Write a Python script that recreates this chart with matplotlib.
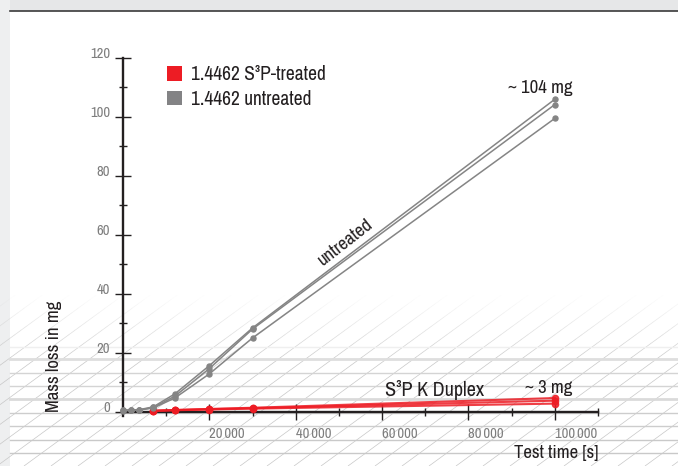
import numpy as np
import matplotlib
matplotlib.use("Agg")
import matplotlib.pyplot as plt
import matplotlib.patches as mpatches
from matplotlib.collections import LineCollection
from matplotlib.ticker import FixedLocator, FuncFormatter

plt.rcParams['font.family'] = ['Archivo Narrow', 'DejaVu Sans']

# data
time_s = [0, 1800, 3600, 7000, 12000, 20000, 30000, 100000]
untreated_a = [0.5, 0.5, 0.6, 1.6, 6.0, 15.6, 28.4, 106.0]
untreated_b = [0.4, 0.5, 0.5, 1.4, 5.2, 14.6, 28.0, 104.2]
untreated_c = [0.3, 0.4, 0.5, 1.2, 4.6, 12.8, 25.0, 99.5]

treated_time_s = [7000, 12000, 20000, 30000, 100000]
treated_a = [0.3, 0.55, 0.9, 1.3, 4.6]
treated_b = [0.25, 0.5, 0.8, 1.15, 3.7]
treated_c = [0.2, 0.45, 0.7, 1.0, 2.7]

x_major = [20000, 40000, 60000, 80000, 100000]
x_minor = [10000, 30000, 50000, 70000, 90000, 110000]
y_major = [0, 20, 40, 60, 80, 100, 120]
y_minor = [10, 30, 50, 70, 90, 110]

legend_labels = ["1.4462 S\u00b3P-treated", "1.4462 untreated"]

RED = '#ed1c24'
GRAY = '#858585'
INK = '#231f20'
TICKGRAY = '#7d7d7d'

W, H = 678, 466
fig = plt.figure(figsize=(W / 100, H / 100), dpi=100)

# background decoration in pixel coordinates
bg = fig.add_axes([0, 0, 1, 1], zorder=-1)
bg.set_autoscale_on(False)
bg.set_xlim(0, W)
bg.set_ylim(H, 0)
bg.axis('off')
bg.add_patch(mpatches.Rectangle((0, 0), W, 10.5, color='#e6e7e8', lw=0))
bg.add_patch(mpatches.Rectangle((0, 0), 9.5, H, color='#eeeff0', lw=0))
bg.plot([9.5, W], [11, 11], color='#3a3a3a', lw=1.2)

# diagonal hatching at the bottom, fading out towards the top
slope = 0.73
y_edges = np.linspace(295, H, 40)
segs, cols = [], []
for x0 in np.arange(-300, W + 50, 27):
    for ya, yb in zip(y_edges[1:], y_edges[:-1]):
        xa = x0 + (H - ya) / slope
        xb = x0 + (H - yb) / slope
        fade = min(1.0, max(0.0, ((ya + yb) / 2 - 295) / 65))
        segs.append([(xa, ya), (xb, yb)])
        cols.append((0.78, 0.78, 0.78, fade))
bg.add_collection(LineCollection(segs, colors=cols, linewidths=0.5))

hlines = [(347, '#efefef', 1.0), (359, '#dedede', 2.0), (373, '#d4d4d4', 1.0),
          (386, '#d4d4d4', 1.0), (399, '#dadada', 2.0), (413, '#cdcdcd', 1.0),
          (426, '#cdcdcd', 1.0), (440, '#c9c9c9', 1.0), (453, '#c9c9c9', 1.0)]
for yy, cc, ww in hlines:
    bg.plot([9.5, W], [yy, yy], color=cc, lw=ww, zorder=4)
bg.set_xlim(0, W)
bg.set_ylim(H, 0)

# main chart
ax = fig.add_axes([123 / W, 1 - 416 / H, 475 / W, 358 / H], zorder=1)
ax.patch.set_alpha(0)
ax.set_xlim(0, 110000)
ax.set_ylim(-1.5, 120)

for s in ['top', 'right']:
    ax.spines[s].set_visible(False)
ax.spines['bottom'].set_position(('data', 0))
for s in ['left', 'bottom']:
    ax.spines[s].set_linewidth(1.7)
    ax.spines[s].set_color(INK)

for tr in [treated_a, treated_b, treated_c]:
    ax.plot(treated_time_s, tr, color=RED, lw=1.5, alpha=0.85, marker='o', ms=4.5,
            mec=RED, mfc=RED, zorder=3, clip_on=False)
for un in [untreated_a, untreated_b, untreated_c]:
    ax.plot(time_s, un, color=GRAY, lw=1.1, marker='o', ms=3.6,
            mec=GRAY, mfc=GRAY, zorder=4, clip_on=False)

ax.xaxis.set_major_locator(FixedLocator(x_major))
ax.xaxis.set_minor_locator(FixedLocator(x_minor))
ax.yaxis.set_major_locator(FixedLocator(y_major))
ax.yaxis.set_minor_locator(FixedLocator(y_minor))
ax.xaxis.set_major_formatter(FuncFormatter(lambda v, p: f"{int(v) // 1000}\u2009000"))
ax.yaxis.set_major_formatter(FuncFormatter(lambda v, p: f"{int(v)}"))

ax.tick_params(which='major', direction='inout', length=12.2, width=1.0,
               color=INK, labelcolor=TICKGRAY, labelsize=10.5)
ax.tick_params(which='minor', direction='inout', length=5.8, width=1.0, color=INK)
ax.tick_params(axis='x', which='major', pad=5.0)
ax.tick_params(axis='y', which='major', pad=3.2)
for lab in ax.get_xticklabels():
    lab.set_ha('left')
for lab in ax.get_yticklabels():
    lab.set_va('baseline')

# annotations
ax.text(96600, 108.2, "~ 104 mg", ha='center', va='baseline', fontsize=13.5, color=INK)
ax.text(98500, 6.3, "~ 3 mg", ha='center', va='baseline', fontsize=13.5, color=INK)
ax.text(60700, 5.3, "S\u00b3P K Duplex", ha='left', va='baseline', fontsize=14.5, color=INK)
ax.text(51400, 57.5, "untreated", ha='center', va='center', rotation=38,
        rotation_mode='anchor', fontsize=13.5, color=INK)

fig.text(598 / W, 1 - 458 / H, "Test time [s]", ha='right', va='baseline',
         fontsize=13.5, color=INK)
fig.text(54 / W, 1 - 412 / H, "Mass loss in mg", ha='center', va='bottom',
         rotation=90, fontsize=13.5, color=INK)

handles = [mpatches.Patch(color=RED, lw=0), mpatches.Patch(color='#838385', lw=0)]
ax.legend(handles, legend_labels, loc='upper left', frameon=False,
          bbox_to_anchor=(167 / W, 1 - 65 / H), bbox_transform=fig.transFigure,
          borderaxespad=0, borderpad=0, handlelength=0.78, handleheight=0.78,
          handletextpad=0.45, labelspacing=0.3, fontsize=14, labelcolor=INK)

fig.savefig("out.png", dpi=100)
